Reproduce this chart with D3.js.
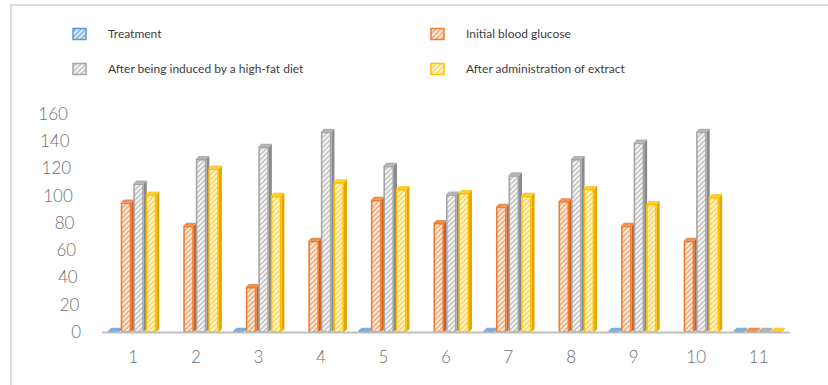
<!DOCTYPE html>
<html>
<head>
<meta charset="utf-8">
<script src="https://cdn.jsdelivr.net/npm/d3@7"></script>
<style>
  html, body { margin: 0; padding: 0; background: #fff; }
  svg { display: block; font-family: Lato, "Open Sans", sans-serif; }
</style>
</head>
<body>
<svg id="chart" width="828" height="385"></svg>
<script>
// ---- data ----
const categories = ["1", "2", "3", "4", "5", "6", "7", "8", "9", "10", "11"];
const seriesNames = [
  "Treatment",
  "Initial blood glucose",
  "After being induced by a high-fat diet",
  "After administration of extract"
];
const treatment      = [1, 0, 1, 0, 1, 0, 1, 0, 1, 0, 1];
const initialGlucose = [95, 78, 33, 67, 97, 80, 92, 96, 78, 67, 1];
const highFatDiet    = [109, 127, 136, 147, 122, 101, 115, 127, 139, 147, 1];
const afterExtract   = [101, 120, 100, 110, 105, 102, 100, 105, 94, 99, 1];
const yTicks = [0, 20, 40, 60, 80, 100, 120, 140, 160];

const seriesValues = [treatment, initialGlucose, highFatDiet, afterExtract];

// ---- styling ----
const palette = [
  { edge: "#5B9BD5", bg: "#DDEBF7", stripe: "#8DB8E2", side: "#3C7CBC", top: "#7FAEDD" },
  { edge: "#ED7D31", bg: "#FDEEE3", stripe: "#F4AE7E", side: "#C9621F", top: "#EE8E4E" },
  { edge: "#A5A5A5", bg: "#F6F6F6", stripe: "#C8C8C8", side: "#8A8A8A", top: "#B2B2B2" },
  { edge: "#FFC000", bg: "#FFF7DA", stripe: "#FFD95C", side: "#E0A800", top: "#FFCB2E" }
];

const W = 828, H = 385;
const svg = d3.select("#chart");
svg.append("rect").attr("width", W).attr("height", H).attr("fill", "#fff");

// hatch patterns: diagonal "/" stripes on a pale ground
const defs = svg.append("defs");
palette.forEach((c, j) => {
  const s = 5;
  const p = defs.append("pattern")
    .attr("id", "hatch" + j)
    .attr("patternUnits", "userSpaceOnUse")
    .attr("width", s).attr("height", s);
  p.append("rect").attr("width", s).attr("height", s).attr("fill", c.bg);
  p.append("path")
    .attr("d", `M-1,1 l2,-2 M0,${s} l${s},-${s} M${s - 1},${s + 1} l2,-2`)
    .attr("stroke", c.stripe).attr("stroke-width", 1.6);
});

// outer frame
svg.append("path")
  .attr("d", `M11,${H + 2} L11,5 L${W + 2},5`)
  .attr("fill", "none").attr("stroke", "#dcdcdc").attr("stroke-width", 2);

// ---- scales ----
const x = d3.scaleBand().domain(categories).range([102, 790])
  .paddingInner(0.2).paddingOuter(0.1);
const xs = d3.scaleBand().domain(d3.range(seriesNames.length)).range([0, x.bandwidth()]);
const y = d3.scaleLinear().domain([0, 160]).range([332, 114]);

// ---- y axis labels ----
const slant = 0.06;
const yAxis = svg.append("g")
  .attr("transform", "translate(81,0)")
  .call(d3.axisLeft(y).tickValues(yTicks).tickSize(0).tickPadding(0));
yAxis.select(".domain").remove();
yAxis.selectAll("text")
  .attr("x", d => -slant * (y(0) - y(d)))
  .attr("font-family", "Lato, 'Open Sans', sans-serif")
  .attr("font-size", 17)
  .attr("font-weight", 300)
  .attr("fill", "#6f6f6f");

// ---- bars (3D-style columns) ----
const depth = 3;
const faceW = xs.bandwidth() - 2;
const plot = svg.append("g");

categories.forEach((cat, i) => {
  const g = plot.append("g");
  seriesValues.forEach((vals, j) => {
    const v = vals[i];
    if (!(v > 0)) return;
    const c = palette[j];
    const x0 = x(cat) + xs(j);
    const x1 = x0 + faceW;
    const yt = y(v), yb = y(0);
    // right side face
    g.append("path")
      .attr("d", `M${x1},${yt} L${x1 + depth},${yt - depth} L${x1 + depth},${yb - depth} L${x1},${yb} Z`)
      .attr("fill", c.side);
    // top face
    g.append("path")
      .attr("d", `M${x0},${yt} L${x0 + depth},${yt - depth} L${x1 + depth},${yt - depth} L${x1},${yt} Z`)
      .attr("fill", c.top);
    // front face
    g.append("rect")
      .attr("x", x0 + 0.75).attr("y", yt + 0.75)
      .attr("width", faceW - 1.5).attr("height", Math.max(0, yb - yt - 0.75))
      .attr("fill", `url(#hatch${j})`)
      .attr("stroke", c.edge).attr("stroke-width", 1.6);
  });
});

// baseline
svg.append("line")
  .attr("x1", x.range()[0]).attr("x2", x.range()[1])
  .attr("y1", y(0) + 0.5).attr("y2", y(0) + 0.5)
  .attr("stroke", "#BFBFBF").attr("stroke-width", 2);

// ---- x axis labels ----
const xAxis = svg.append("g")
  .attr("transform", `translate(0,${y(0)})`)
  .call(d3.axisBottom(x).tickSize(0).tickPadding(19));
xAxis.select(".domain").remove();
xAxis.selectAll("text")
  .attr("font-family", "Lato, 'Open Sans', sans-serif")
  .attr("font-size", 17)
  .attr("font-weight", 300)
  .attr("fill", "#6f6f6f");

// ---- legend ----
const legendCols = [73, 431];
const legendRows = [34, 69];
const legend = svg.append("g");
seriesNames.forEach((name, j) => {
  const lx = legendCols[j % 2];
  const ly = legendRows[Math.floor(j / 2)];
  const c = palette[j];
  legend.append("rect")
    .attr("x", lx).attr("y", ly - 5.5)
    .attr("width", 13).attr("height", 11)
    .attr("fill", `url(#hatch${j})`)
    .attr("stroke", c.edge).attr("stroke-width", 1.5);
  legend.append("text")
    .attr("x", lx + 35).attr("y", ly)
    .attr("dy", "0.35em")
    .attr("font-size", 12)
    .attr("fill", "#404040")
    .text(name);
});
</script>
</body>
</html>
